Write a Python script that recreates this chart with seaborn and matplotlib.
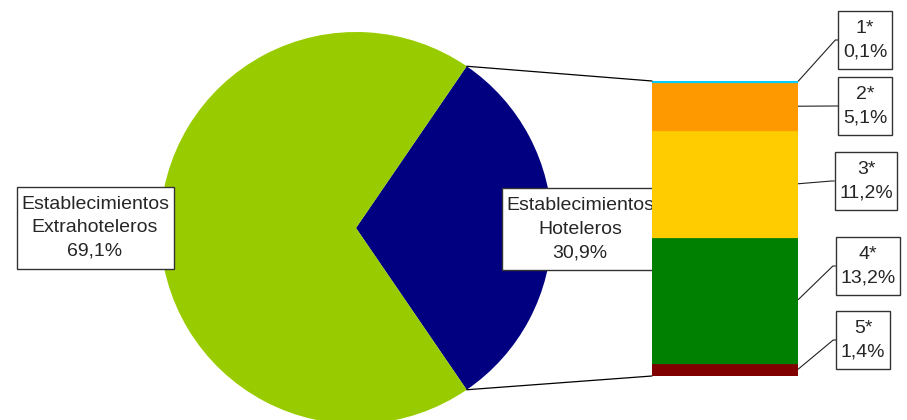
import numpy as np
import matplotlib
matplotlib.use("Agg")
import matplotlib.pyplot as plt
from matplotlib.patches import ConnectionPatch, Rectangle
import seaborn as sns

# pie: share of establishments (%)
pie_labels = ["Establecimientos\nHoteleros", "Establecimientos\nExtrahoteleros"]
pie_values = [30.9, 69.1]
pie_colors = ["#000080", "#99CC00"]

# bar: hotels broken down by category (%), top to bottom
star_labels = ["1*", "2*", "3*", "4*", "5*"]
star_values = [0.1, 5.1, 11.2, 13.2, 1.4]
star_colors = ["#00CCFF", "#FF9900", "#FFCC00", "#008000", "#800000"]


def fmt(v):
    return f"{v:.1f}".replace(".", ",") + "%"


sns.set_style("white")
plt.rcParams["font.family"] = ["Liberation Sans", "DejaVu Sans"]

W, H = 907, 420
fig = plt.figure(figsize=(W / 100, H / 100), dpi=100)
ax = fig.add_axes([0, 0, 1, 1])

center = (356, 192)
radius = 196
start = -pie_values[0] * 3.6 / 2
ax.pie(pie_values, colors=pie_colors, startangle=start, center=center,
       radius=radius, wedgeprops=dict(linewidth=0))
ax.set_xlim(0, W)
ax.set_ylim(0, H)
ax.set_aspect("equal")
ax.axis("off")

# stacked bar of the hotel categories (drawn bottom-up so the thin top one stays visible)
ax_bar = fig.add_axes([652 / W, 44 / H, 146 / W, 295 / H])
total = sum(star_values)
bottoms = [sum(star_values[i + 1:]) for i in range(len(star_values))]
for v, b, c in list(zip(star_values, bottoms, star_colors))[::-1]:
    sns.barplot(x=[0], y=[v], bottom=b, color=c, width=1, saturation=1,
                errorbar=None, linewidth=1.6, edgecolor=c, ax=ax_bar)
ax_bar.set_xlim(-0.5, 0.5)
ax_bar.set_ylim(0, total)
ax_bar.axis("off")

# lines from the pie wedge to the bar
for sign, ybar in [(1, total), (-1, 0)]:
    ang = np.deg2rad(sign * pie_values[0] * 1.8)
    p = (center[0] + radius * np.cos(ang), center[1] + radius * np.sin(ang))
    con = ConnectionPatch(xyA=p, coordsA=ax.transData, xyB=(-0.5, ybar),
                          coordsB=ax_bar.transData, color="black", lw=0.9)
    fig.add_artist(con)

fs = 14.0
lsp = 1.5

all_texts = []
all_texts.append(ax.text(95, 192, f"{pie_labels[1]}\n{fmt(pie_values[1])}",
                         ha="center", va="center", fontsize=fs, linespacing=lsp,
                         zorder=6))
all_texts.append(ax.text(580, 191, f"{pie_labels[0]}\n{fmt(pie_values[0])}",
                         ha="center", va="center", fontsize=fs, linespacing=lsp,
                         zorder=6))

# label boxes for the bar
label_pos = [(865, 380), (865, 314), (866, 239), (868, 154), (863, 80)]
star_texts = []
for lab, v, (cx, cy) in zip(star_labels, star_values, label_pos):
    t = ax.text(cx, cy, f"{lab}\n{fmt(v)}", ha="center", va="center",
                fontsize=fs, linespacing=lsp, zorder=6)
    star_texts.append(t)
all_texts += star_texts

fig.canvas.draw()
renderer = fig.canvas.get_renderer()
padx, pady = 4.5, 9
boxes = []
for t in all_texts:
    bb = t.get_window_extent(renderer)
    r = Rectangle((bb.x0 - padx, bb.y0 - pady), bb.width + 2 * padx,
                  bb.height + 2 * pady, fc="white", ec="#333333", lw=1, zorder=5)
    ax.add_patch(r)
    boxes.append((bb.x0 - padx, bb.y0 - pady, bb.height + 2 * pady))

for t, v, b, (x0, y0, h) in zip(star_texts, star_values, bottoms, boxes[2:]):
    px, py = ax_bar.transData.transform((0.5, b + v / 2))
    cy = y0 + h / 2
    ax.plot([px, x0 - 3, x0], [py, cy, cy], color="#222222", lw=0.8,
            solid_capstyle="butt")

fig.savefig("out.png", dpi=100)
